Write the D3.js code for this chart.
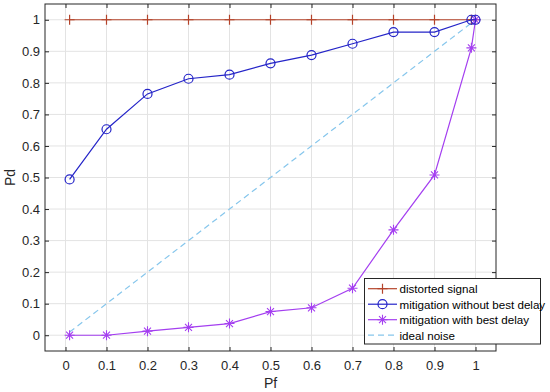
<!DOCTYPE html>
<html><head><meta charset="utf-8">
<script src="https://cdn.jsdelivr.net/npm/d3@7"></script>
<style>body{margin:0;background:#fff}svg{display:block;font-family:"Liberation Sans",Arial,sans-serif}</style>
</head><body><svg id="c" width="550" height="392"></svg>
<script>
const pf = [0.01,0.1,0.2,0.3,0.4,0.5,0.6,0.7,0.8,0.9,0.99,1];
const distorted = [1,1,1,1,1,1,1,1,1,1,1,1];
const withoutBest = [0.494,0.653,0.765,0.813,0.826,0.862,0.888,0.924,0.961,0.961,1,1];
const withBest = [0,0,0.013,0.025,0.037,0.075,0.087,0.149,0.334,0.508,0.911,1];
const idealNoise = [0.01,0.1,0.2,0.3,0.4,0.5,0.6,0.7,0.8,0.9,0.99,1];
const xTicks = [0,0.1,0.2,0.3,0.4,0.5,0.6,0.7,0.8,0.9,1];
const yTicks = [0,0.1,0.2,0.3,0.4,0.5,0.6,0.7,0.8,0.9,1];
const legendLabels = ["distorted signal","mitigation without best delay","mitigation with best delay","ideal noise"];

const svg = d3.select("#c");
const L=45,R=496,T=4,B=351;
const x = d3.scaleLinear().domain([-0.05,1.05]).range([L,R]);
const y = d3.scaleLinear().domain([-0.05,1.05]).range([B,T]);
const g = svg.append("g");
// grid
g.selectAll(".gx").data(xTicks).join("line").attr("x1",d=>x(d)).attr("x2",d=>x(d)).attr("y1",T).attr("y2",B).attr("stroke","#e3e3e3");
g.selectAll(".gy").data(yTicks).join("line").attr("y1",d=>y(d)).attr("y2",d=>y(d)).attr("x1",L).attr("x2",R).attr("stroke","#e3e3e3");
// box
g.append("rect").attr("x",L).attr("y",T).attr("width",R-L).attr("height",B-T).attr("fill","none").attr("stroke","#262626").attr("stroke-width",1);
// axes
const fmt = d=> d===0?"0":(d===1?"1":d3.format(".1f")(d));
const xa = svg.append("g").attr("transform",`translate(0,${B})`).call(d3.axisBottom(x).tickValues(xTicks).tickFormat(fmt).tickSize(-4).tickPadding(10));
const ya = svg.append("g").attr("transform",`translate(${L},0)`).call(d3.axisLeft(y).tickValues(yTicks).tickFormat(fmt).tickSize(-4).tickPadding(5));
svg.append("g").attr("transform",`translate(0,${T})`).call(d3.axisTop(x).tickValues(xTicks).tickFormat("").tickSize(-4));
svg.append("g").attr("transform",`translate(${R},0)`).call(d3.axisRight(y).tickValues(yTicks).tickFormat("").tickSize(-4));
svg.selectAll(".domain").remove();
svg.selectAll(".tick line").attr("stroke","#262626");
svg.selectAll(".tick text").attr("fill","#262626").attr("font-size",13);
svg.append("text").attr("x",(L+R)/2).attr("y",388).attr("text-anchor","middle").attr("font-size",14).attr("fill","#262626").text("Pf");
svg.append("text").attr("transform",`translate(15,${(T+B)/2}) rotate(-90)`).attr("text-anchor","middle").attr("font-size",14).attr("fill","#262626").text("Pd");

const cols = ["#b4432a","#2424c8","#a43ff0","#86c6ec"];
const line = d3.line().x(d=>x(d[0])).y(d=>y(d[1]));
const series = [distorted,withoutBest,withBest,idealNoise];
const clip = svg.append("g");
// ideal noise
clip.append("path").datum(pf.map((p,i)=>[p,idealNoise[i]])).attr("d",line).attr("fill","none").attr("stroke",cols[3]).attr("stroke-width",1.2).attr("stroke-dasharray","6,4");
function plus(sel,c){sel.append("path").attr("d","M-5,0H5M0,-5V5").attr("stroke",c).attr("stroke-width",1.2);}
function circ(sel,c){sel.append("circle").attr("r",4.5).attr("fill","none").attr("stroke",c).attr("stroke-width",1.2);}
function star(sel,c){sel.append("path").attr("d","M-5,0H5M0,-5V5M-3.5,-3.5L3.5,3.5M-3.5,3.5L3.5,-3.5").attr("stroke",c).attr("stroke-width",1.1);}
const markers=[plus,circ,star];
[0,2,1].forEach(k=>{
  const data = pf.map((p,i)=>[p,series[k][i]]);
  clip.append("path").datum(data).attr("d",line).attr("fill","none").attr("stroke",cols[k]).attr("stroke-width",1.2);
  clip.selectAll(null).data(data).join("g").attr("transform",d=>`translate(${x(d[0])},${y(d[1])})`).each(function(){markers[k](d3.select(this),cols[k]);});
});
// legend
const lg = svg.append("g");
lg.append("rect").attr("x",364.5).attr("y",278.5).attr("width",176).attr("height",65.5).attr("fill","#fff").attr("stroke","#262626");
legendLabels.forEach((t,i)=>{
  const yy = 288.7 + i*15.5;
  const gi = lg.append("g");
  if(i===3){gi.append("line").attr("x1",368).attr("x2",397).attr("y1",yy).attr("y2",yy).attr("stroke",cols[3]).attr("stroke-width",1.2).attr("stroke-dasharray","6,4");}
  else{gi.append("line").attr("x1",368).attr("x2",397).attr("y1",yy).attr("y2",yy).attr("stroke",cols[i]).attr("stroke-width",1.2);
    const mg=gi.append("g").attr("transform",`translate(382.5,${yy})`); markers[i](mg,cols[i]);}
  gi.append("text").attr("x",399.5).attr("y",yy+4.5).attr("font-size",11.6).attr("fill","#000").text(t);
});
</script></body></html>
